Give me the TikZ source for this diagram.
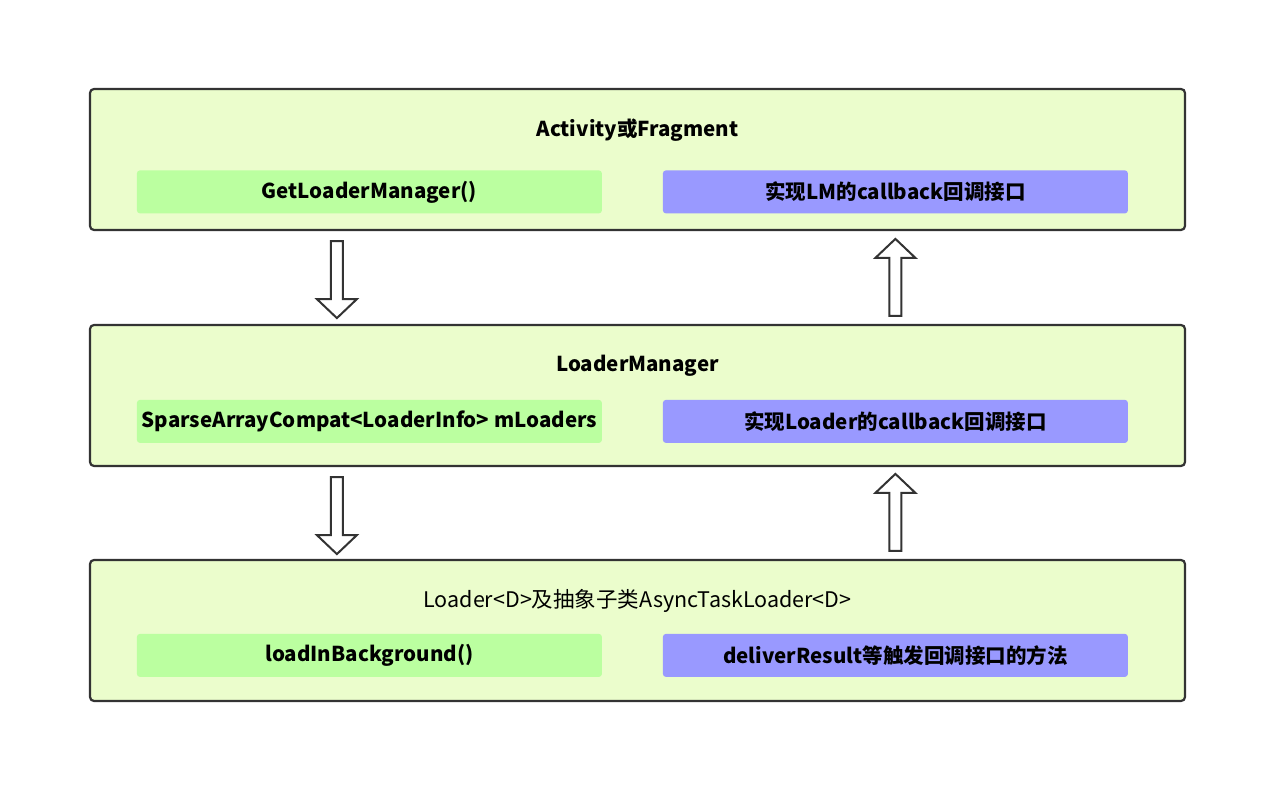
\documentclass[tikz,border=0pt]{standalone}
\usepackage{fontspec}
\setmainfont{Noto Sans CJK SC}
\usetikzlibrary{calc}

\definecolor{boxfill}{RGB}{235,253,204}
\definecolor{boxline}{RGB}{51,51,51}
\definecolor{callfill}{RGB}{187,255,160}
\definecolor{backfill}{RGB}{153,153,255}

\tikzset{
  layer/.style={draw=boxline,line width=2.2pt,fill=boxfill,rounded corners=4pt,
    minimum width=1095pt,minimum height=141pt,inner sep=0pt},
  title/.style={font=\fontsize{20.5}{24}\selectfont\bfseries},
  plain title/.style={font=\fontsize{21.5}{25}\selectfont},
  part/.style={rounded corners=3pt,minimum width=465pt,minimum height=43pt,inner sep=0pt,
    font=\fontsize{20.5}{24}\selectfont\bfseries},
  call/.style={part,fill=callfill},
  back/.style={part,fill=backfill},
  fatarrow/.style={draw=boxline,line width=2pt,fill=white,line join=miter}
}

\begin{document}
\begin{tikzpicture}[x=1pt,y=1pt]
\useasboundingbox (0,0) rectangle (1275,795);
% three layers
\node (act) [layer] at (637.5,635.5) {};
\node (lm) [layer] at (637.5,399.5) {};
\node (ldr) [layer] at (637.5,164.5) {};
\draw (act.north) ++(down:42) node (actt) [title] {Activity或Fragment};
\draw (lm.north) ++(down:42) node (lmt) [title] {LoaderManager};
\draw (ldr.north) ++(down:42) node (ldrt) [plain title] {Loader<D>及抽象子类AsyncTaskLoader<D>};
% parts of each layer
\draw (act.north west) ++(280.5,-104) node (getlm) [call] {GetLoaderManager()};
\draw (act.north west) ++(806.5,-104) node (lmcb) [back] {实现LM的callback回调接口};
\draw (lm.north west) ++(280.5,-97.5) node (sparse) [call] {SparseArrayCompat<LoaderInfo> mLoaders};
\draw (lm.north west) ++(806.5,-97.5) node (ldrcb) [back] {实现Loader的callback回调接口};
\draw (ldr.north west) ++(280.5,-96.5) node (bg) [call] {loadInBackground()};
\draw (ldr.north west) ++(806.5,-96.5) node (deliver) [back] {deliverResult等触发回调接口的方法};
% block arrows between the layers
\coordinate (d1) at ($(act.south west)+(248,-10)$);
\coordinate (d2) at ($(lm.south west)+(248,-10)$);
\coordinate (u1) at ($(lm.north -| lmcb)+(0,8)$);
\coordinate (u2) at ($(ldr.north -| deliver)+(0,8)$);
\foreach \c in {d1,d2}
  \draw[fatarrow] (\c) ++(-6,0) -- ++(12,0) -- ++(0,-58) -- ++(14,0) -- ++(-20,-19)
    -- ++(-20,19) -- ++(14,0) -- cycle;
\foreach \c in {u1,u2}
  \draw[fatarrow] (\c) ++(-6,0) -- ++(12,0) -- ++(0,58) -- ++(14,0) -- ++(-20,19)
    -- ++(-20,-19) -- ++(14,0) -- cycle;
\end{tikzpicture}
\end{document}
